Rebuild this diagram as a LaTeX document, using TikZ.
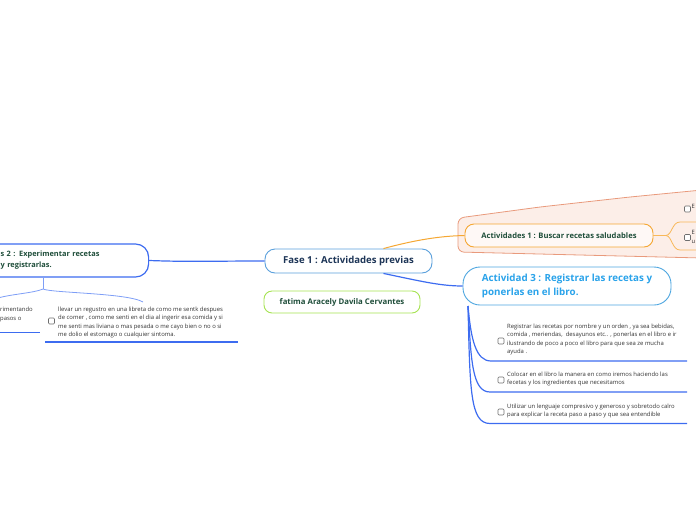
\documentclass[tikz,border=0pt]{standalone}
\usepackage{fontspec}
\setmainfont{Open Sans}
\definecolor{conblue}{HTML}{3D6CF0}
\definecolor{faseb}{HTML}{5AA0DC}
\definecolor{fasetxt}{HTML}{1D3557}
\definecolor{greenb}{HTML}{A6E352}
\definecolor{darkgreen}{HTML}{1F4E3A}
\definecolor{orangeb}{HTML}{F5A733}
\definecolor{orangel}{HTML}{F8B859}
\definecolor{peach}{HTML}{FCEEE8}
\definecolor{peachb}{HTML}{E99A7C}
\definecolor{act3b}{HTML}{4DA6E0}
\definecolor{act3t}{HTML}{2AA3EA}
\definecolor{lightblue}{HTML}{7E9EF6}
\definecolor{txt}{HTML}{333333}
\definecolor{boxg}{HTML}{6E6E6E}
\begin{document}
\begin{tikzpicture}[x=1pt,y=-1pt,
  topicbox/.style={draw, fill=white, inner sep=0pt, align=center},
  childtext/.style={inner sep=0pt, align=left, anchor=west, text=txt,
    font=\fontsize{5.9}{8.5}\selectfont},
  chk/.style={draw=boxg, line width=0.6pt, rounded corners=1pt, minimum size=6pt, inner sep=0pt},
  bluecon/.style={conblue, line width=1.2pt},
  bracecon/.style={lightblue, line width=0.8pt},
  orangecon/.style={orangel, line width=0.8pt}]
\useasboundingbox (0,0) rectangle (696,520);
\clip (0,0) rectangle (696,520);

% group behind Actividades 1
\draw[peachb, fill=peach, line width=0.8pt, rounded corners=6pt]
  (702,258) -- (458,252) -- (458,218) -- (540,207) -- (630,197) -- (702,190) -- cycle;

% main topics
\node[topicbox, draw=faseb, line width=0.9pt, rounded corners=10pt,
  minimum width=167pt, minimum height=24pt, text=fasetxt,
  font=\fontsize{9.6}{11}\selectfont\bfseries] (fase) at (348.5,261) {Fase 1 : Actividades previas};

\node[topicbox, draw=greenb, line width=0.9pt, rounded corners=8pt,
  minimum width=156pt, minimum height=22pt, text=darkgreen,
  font=\fontsize{7.8}{9}\selectfont\bfseries] (fatima) at (342,302) {fatima Aracely Davila Cervantes};

\node[topicbox, draw=orangeb, fill=white!60!peach, line width=0.9pt, rounded corners=9pt,
  minimum width=188pt, minimum height=23pt, text=darkgreen,
  font=\fontsize{7.6}{9}\selectfont\bfseries] (act1) at (559,235.5) {Actividades 1 : Buscar recetas saludables};

\node[topicbox, draw=act3b, line width=0.9pt, rounded corners=17pt,
  minimum width=208pt, minimum height=38pt, text=act3t, align=left,
  font=\fontsize{9.8}{14}\selectfont\bfseries] (act3) at (567,286) {Actividad 3 : Registrar las recetas y\\ponerlas en el libro.};

\node[draw=conblue, line width=1.2pt, fill=white, rounded corners=13pt,
  anchor=west, inner xsep=14pt, inner ysep=0pt, minimum height=33pt,
  text width=134pt, align=left, text=darkgreen,
  font=\fontsize{7.4}{11}\selectfont\bfseries] (act2) at (-14,260.5) {s 2 : Experimentar recetas\\y registrarlas.};

% connectors from central topic
\draw[bluecon] (fase.west) .. controls (210,261) and (190,262) .. (act2.east);
\draw[orangeb, line width=1pt] ([xshift=35pt]fase.north) .. controls (415,240) and (440,236) .. (act1.west);
\draw[bluecon] ([xshift=35pt]fase.south) .. controls (420,281) and (440,286) .. (act3.west);

% Actividades 1 children (cut at the right edge)
\coordinate (a1fork) at (666,235.5);
\coordinate (c11l) at (680,222);
\coordinate (c11r) at (700,222);
\coordinate (c12l) at (680,250);
\coordinate (c12r) at (700,250);
\draw[orangecon] (act1.east) -- (a1fork);
\draw[orangecon] (a1fork) .. controls (672,235) and (672,222) .. (c11l) -- (c11r);
\draw[orangecon] (a1fork) .. controls (672,236) and (672,250) .. (c12l) -- (c12r);
\node[chk, fill=white] (b11) at (687.5,209) {};
\node[childtext] (c11) at (691.5,206) {E};
\node[chk, fill=white] (b12) at (687.5,237.5) {};
\node[childtext] (c12) at (691.5,237) {E\\u};

% Actividad 3 children
\coordinate (a3root) at (468,306);
\coordinate (u31l) at (491,361); \coordinate (u31r) at (687,361);
\coordinate (u32l) at (490,392); \coordinate (u32r) at (687,392);
\coordinate (u33l) at (490,423.5); \coordinate (u33r) at (687,423.5);
\draw[bluecon] (a3root) .. controls (471,340) and (476,361) .. (u31l) -- (u31r);
\draw[bluecon] (a3root) .. controls (471,360) and (472,392) .. (u32l) -- (u32r);
\draw[bluecon] (a3root) .. controls (470,390) and (470,423.5) .. (u33l) -- (u33r);

\node[chk] (b31) at (501,341) {};
\node[childtext] (c31) at (507,339.5) {Registrar las recetas por nombre y un orden , ya sea bebidas,\\comida , meriendas,\ \ desayunos etc.. , ponerlas en el libro e ir\\ilustrando de poco a poco el libro para que sea ze mucha\\ayuda .};
\node[chk] (b32) at (501,380) {};
\node[childtext] (c32) at (507,379) {Colocar en el libro la manera en como iremos haciendo las\\fecetas y los ingredientes que necesitamos};
\node[chk] (b33) at (501,412) {};
\node[childtext] (c33) at (507,411) {Utilizar un lenguaje compresivo y generoso y sobretodo calro\\para explicar la receta paso a paso y que sea entendible};

% Actividades 2 children
\coordinate (a2fork) at (43,289);
\coordinate (c21top) at (-2,298);
\coordinate (c22top) at (143,302);
\draw[bracecon] (43,277.5) -- (a2fork);
\draw[bracecon] (a2fork) .. controls (52,293) and (128,293) .. (c22top);
\draw[bracecon] (a2fork) .. controls (34,293) and (12,294) .. (c21top);
\coordinate (u21l) at (-5,332.5); \coordinate (u21r) at (40,332.5);
\coordinate (u22l) at (45,342); \coordinate (u22r) at (238,342);
\draw[bluecon] (u21l) -- (u21r);
\draw[bluecon] (u22l) -- (u22r);
\node[childtext] (c21) at (0,314.5) {rimentando\\pasos o};
\node[chk] (b22) at (51.5,321) {};
\node[childtext] (c22) at (58,322.5) {llevar un regustro en una libreta de como me sentk despues\\de comer , como me senti en el dia al ingerir esa comida y si\\me senti mas liviana o mas pesada o me cayo bien o no o si\\me dolio el estomago o cualquier sintoma.};
\end{tikzpicture}
\end{document}
